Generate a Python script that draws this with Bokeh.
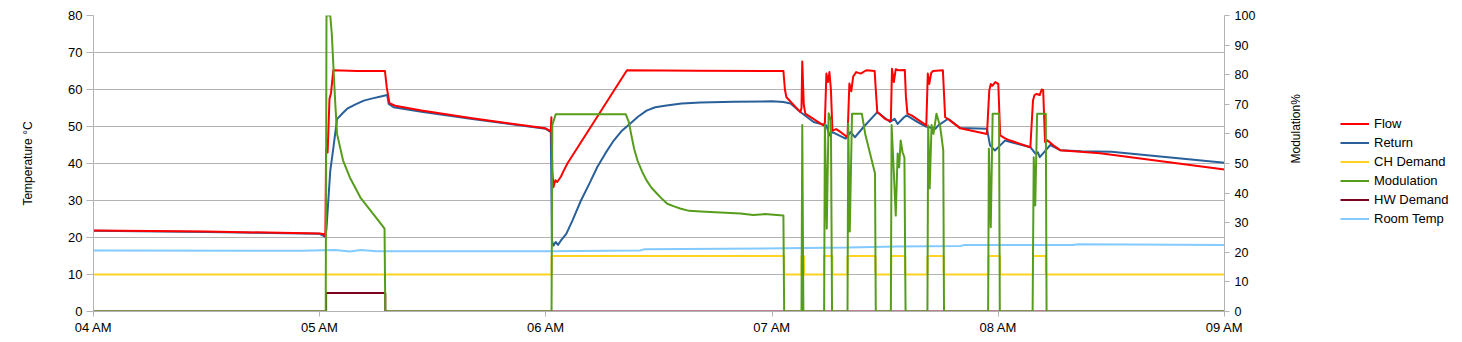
import math
from bokeh.plotting import figure
from bokeh.layouts import row
from bokeh.models import Range1d, LinearAxis, FixedTicker, Legend, LegendItem
from bokeh.embed import file_html
from bokeh.resources import INLINE

# time in minutes after 04:00
hour_ticks = [0, 60, 120, 180, 240, 300]
hour_labels = ["04 AM", "05 AM", "06 AM", "07 AM", "08 AM", "09 AM"]

flow_t = [0, 30, 60, 61.3, 61.5, 61.7, 62.1, 62.6, 63.0, 63.6, 70, 77.3, 77.8, 78.5, 80, 87, 100, 119.9,
          121.3, 121.45, 121.7, 122.0, 122.5, 123.0, 124.0, 124.6, 125.7, 141.5, 160, 183.0, 183.4, 183.8,
          187.5, 187.8, 188.0, 188.4, 188.8, 193.6, 194.0, 194.4, 194.8, 195.2, 195.6, 196.0, 197, 198, 200.0,
          200.5, 201.0, 201.5, 202.3, 203.5, 205, 207.2, 207.5, 207.9, 210, 211.5, 211.8, 212.3, 212.8, 213.5,
          215.2, 215.5, 215.9, 217, 220.9, 221.3, 221.7, 222.2, 222.7, 225.3, 225.9, 227, 229.9, 237.0, 237.6,
          238.0, 238.4, 239.2, 240.0, 240.5, 241.8, 243.2, 248.5, 249.2, 249.6, 250.2, 251.0, 251.5, 251.9,
          252.4, 253, 254.6, 256.4, 261.7, 267.0, 300]
flow_v = [21.9, 21.6, 21.1, 20.9, 20.3, 44.0, 43.0, 57.5, 59.0, 65.2, 65.0, 65.0, 60.5, 56.3, 55.6, 54.3, 52.3, 49.5,
          48.7, 52.5, 38.0, 33.6, 35.5, 35.0, 36.5, 37.8, 40.0, 65.2, 65.1, 65.0, 60.0, 57.9,
          53.9, 55.0, 67.6, 56.0, 53.5, 50.3, 51.0, 64.3, 62.0, 64.7, 60.0, 48.9, 49.3, 48.6, 47.1,
          61.6, 59.5, 63.5, 64.7, 64.3, 65.2, 65.0, 60.0, 53.9, 52.0, 51.5, 65.6, 62.0, 65.5, 65.2,
          65.3, 58.0, 53.5, 53.0, 50.3, 64.3, 61.5, 64.5, 65.0, 65.2, 52.5, 51.8, 49.5, 48.0, 59.7,
          61.5, 61.0, 62.0, 61.5, 47.6, 46.8, 46.2, 44.4, 57.0, 58.5, 58.8, 58.5, 60.0, 59.9,
          45.8, 46.3, 44.9, 43.6, 43.2, 42.8, 38.4]

return_t = [0, 30, 60, 61.5, 61.8, 62.8, 63.6, 64.6, 66.0, 67.3, 69.5, 71.7, 74, 76.2, 77.9, 78.3, 79.6, 87, 100,
            119.9, 121.3, 121.6, 122.0, 122.6, 123.2, 124, 125.4, 127, 129.3, 131.5, 133.6, 135.8, 138.0, 140,
            142.4, 144.5, 146.7, 149, 152, 156, 161, 170, 180,
            183, 184.9, 187.5, 191, 194.4, 195.2, 196, 199.5, 200.8, 202, 204.2, 207.9, 211.3, 212.5, 213.3,
            215, 215.7, 218.6, 220.8, 223.3, 224.1, 226.7, 229.9, 237.0, 237.8, 239.1, 240.5, 241.8, 243.2,
            248.5, 249.9, 250.5, 251.0, 252.5, 253.8, 256.4, 262, 270, 300]
return_v = [21.8, 21.5, 21.0, 20.2, 22.4, 38.0, 44.0, 52.0, 53.5, 54.8, 56.0, 57.0, 57.6, 58.1, 58.5, 56.1, 55.2, 54.0,
            52.1, 49.4, 48.5, 19.2, 17.8, 18.8, 18.0, 19.2, 21.0, 24.5, 30.0, 34.5, 39.0, 42.8, 46.2, 48.7,
            50.8, 52.7, 54.3, 55.2, 55.7, 56.2, 56.5, 56.7, 56.8,
            56.6, 56.2, 53.9, 51.2, 50.3, 47.6, 48.5, 46.7, 48.5, 47.1, 49.8, 53.9, 51.2, 52.1, 50.7,
            52.5, 53.0, 51.2, 50.0, 49.4, 50.3, 52.1, 49.6, 49.4, 44.9, 43.5, 44.9, 46.2, 45.8,
            44.4, 42.6, 43.0, 41.7, 43.5, 45.0, 43.6, 43.3, 43.2, 40.2]

ch_t = [0, 121.5, 183.2, 187.8, 188.5, 193.8, 196.0, 200.0, 207.4, 211.6, 215.3, 221.2, 225.5, 237.4, 240.5,
        249.2, 252.6, 300]
ch_v = [10, 15, 10, 15, 10, 15, 10, 15, 10, 15, 10, 15, 10, 15, 10, 15, 10, 10]

mod_t = [0, 61.6, 61.8, 62.8, 63.2, 64.1, 64.6, 66.2, 68.0, 70.8, 73.5, 76.2, 77.2, 77.4, 121.5, 121.7, 122.6,
         141.2, 142, 142.6, 143.4, 144.3, 145.5, 146.7, 148, 149.5, 151, 152.2, 154, 155.6, 158, 161, 165,
         171.6, 175, 178, 183.0, 183.2,
         187.8, 188.0, 188.3, 193.8, 194.0, 194.5, 195.0, 195.6, 195.9, 200.0, 200.2, 200.6, 201.2, 203.8,
         204.7, 207.3, 207.5, 211.5, 211.7, 212.3, 212.8, 213.3, 213.7, 214.1, 214.6, 215.1, 215.4, 221.2,
         221.4, 221.8, 222.3, 222.8, 223.6, 224.6, 225.4, 225.6, 237.3, 237.5, 238.0, 238.5, 240.2, 240.4,
         249.1, 249.4, 249.8, 250.3, 252.6, 252.8, 300]
mod_v = [0, 0, 100, 100, 94, 71, 60, 51, 45.3, 38.5, 34.1, 29.7, 28.0, 0, 0, 63, 66.6,
         66.6, 64, 60, 55, 51, 47.3, 44.3, 41.8, 39.8, 37.8, 36.4, 35.5, 34.8, 34.0, 33.8, 33.5,
         33.1, 32.6, 32.9, 32.4, 0,
         0, 63, 0, 0, 63, 28, 67, 64.5, 0, 0, 63.5, 27, 66.8, 66.8,
         60, 46.6, 0, 0, 63, 46.6, 32.4, 53.4, 48.7, 57.8, 53.8, 52.1, 0, 0,
         62.8, 41.6, 63, 60, 66.8, 62.3, 54.4, 0, 0, 55, 28.5, 66.8, 66.8, 0,
         0, 52.1, 35.8, 66.8, 66.8, 0, 0]

hw_t = [0, 61.7, 77.4, 300]
hw_v = [0, 5, 0, 0]

room_t = [0, 55, 64, 68, 71, 75, 120, 145, 146, 183, 200, 213, 230, 231, 260, 261, 300]
room_v = [16.5, 16.4, 16.6, 16.2, 16.6, 16.3, 16.3, 16.5, 16.8, 17.1, 17.3, 17.6, 17.7, 18.0, 18.0, 18.2, 18.0]

series_names = ["Flow", "Return", "CH Demand", "Modulation", "HW Demand", "Room Temp"]
series_colors = ["#ff0000", "#2a6099", "#ffd320", "#579d1c", "#7e0021", "#83caff"]
col = dict(zip(series_names, series_colors))
series_data = {
    "Flow": (flow_t, flow_v), "Return": (return_t, return_v), "CH Demand": (ch_t, ch_v),
    "Modulation": (mod_t, mod_v), "HW Demand": (hw_t, hw_v), "Room Temp": (room_t, room_v),
}

FONT = "Liberation Sans"
GRID = "#b3b3b3"
LW = 2

p = figure(width=1320, height=342, output_backend="svg", toolbar_location=None,
           x_range=Range1d(0, 300), y_range=Range1d(0, 80),
           min_border_left=93, min_border_right=96, min_border_top=15, min_border_bottom=31)
p.extra_y_ranges = {"mod": Range1d(0, 100)}
p.outline_line_color = None
p.background_fill_color = "white"
p.border_fill_color = "white"

p.xaxis.ticker = FixedTicker(ticks=hour_ticks)
p.xaxis.major_label_overrides = {t: l for t, l in zip(hour_ticks, hour_labels)}
p.yaxis.ticker = FixedTicker(ticks=list(range(0, 81, 10)))
p.yaxis.axis_label = "Temperature °C"

right = LinearAxis(y_range_name="mod", ticker=FixedTicker(ticks=list(range(0, 101, 10))),
                   axis_label="Modulation%")
p.add_layout(right, "right")

for ax in [p.xaxis[0], p.yaxis[0], right]:
    ax.axis_line_color = GRID
    ax.major_tick_line_color = GRID
    ax.minor_tick_line_color = None
    ax.major_tick_in = 0
    ax.major_label_text_font = FONT
    ax.major_label_text_color = "black"
    ax.major_label_text_font_size = "13px"
    ax.axis_label_text_font = FONT
    ax.axis_label_text_font_style = "normal"
    ax.axis_label_text_font_size = "12px"
    ax.axis_label_text_color = "black"

p.xaxis.major_tick_out = 5
p.xaxis.major_label_standoff = 3
p.yaxis.major_tick_out = 7
p.yaxis.major_label_standoff = 4
p.yaxis.axis_label_standoff = 30
right.major_tick_out = 5
right.major_label_standoff = 5
right.major_label_text_font_size = "12.5px"
right.axis_label_standoff = 38
right.axis_label_orientation = math.pi / 2

p.xgrid.grid_line_color = None
p.ygrid.grid_line_color = GRID
p.ygrid.grid_line_width = 1

p.line(room_t, room_v, color=col["Room Temp"], line_width=LW)
p.step(hw_t, hw_v, mode="after", color=col["HW Demand"], line_width=LW)
p.step(ch_t, ch_v, mode="after", color=col["CH Demand"], line_width=LW)
p.line(return_t, return_v, color=col["Return"], line_width=LW, line_join="round")
p.line(flow_t, flow_v, color=col["Flow"], line_width=LW, line_join="round")
p.line(mod_t, mod_v, color=col["Modulation"], line_width=LW, line_join="round", y_range_name="mod")

# legend panel to the right (its view range lies outside the data, so only the legend shows)
lg = figure(width=142, height=342, output_backend="svg", toolbar_location=None,
            x_range=Range1d(-2, -1), y_range=Range1d(-2, -1), x_axis_type=None, y_axis_type=None,
            min_border_left=0, min_border_right=0, min_border_top=0, min_border_bottom=0)
lg.outline_line_color = None
lg.grid.grid_line_color = None
lg.background_fill_color = "white"
lg.border_fill_color = "white"
items = []
for name in series_names:
    xs, ys = series_data[name]
    r = lg.line(xs, ys, color=col[name], line_width=LW)
    items.append(LegendItem(label=name, renderers=[r]))
legend = Legend(items=items, location=(20, 83))
legend.border_line_color = None
legend.background_fill_alpha = 0
legend.padding = 0
legend.margin = 0
legend.spacing = 0
legend.glyph_width = 29
legend.glyph_height = 19
legend.label_height = 19
legend.label_standoff = 5
legend.label_text_font = FONT
legend.label_text_font_size = "13px"
legend.label_text_color = "black"
lg.add_layout(legend, "center")

layout = row(p, lg)
open("out.html", "w").write(file_html(layout, INLINE))
